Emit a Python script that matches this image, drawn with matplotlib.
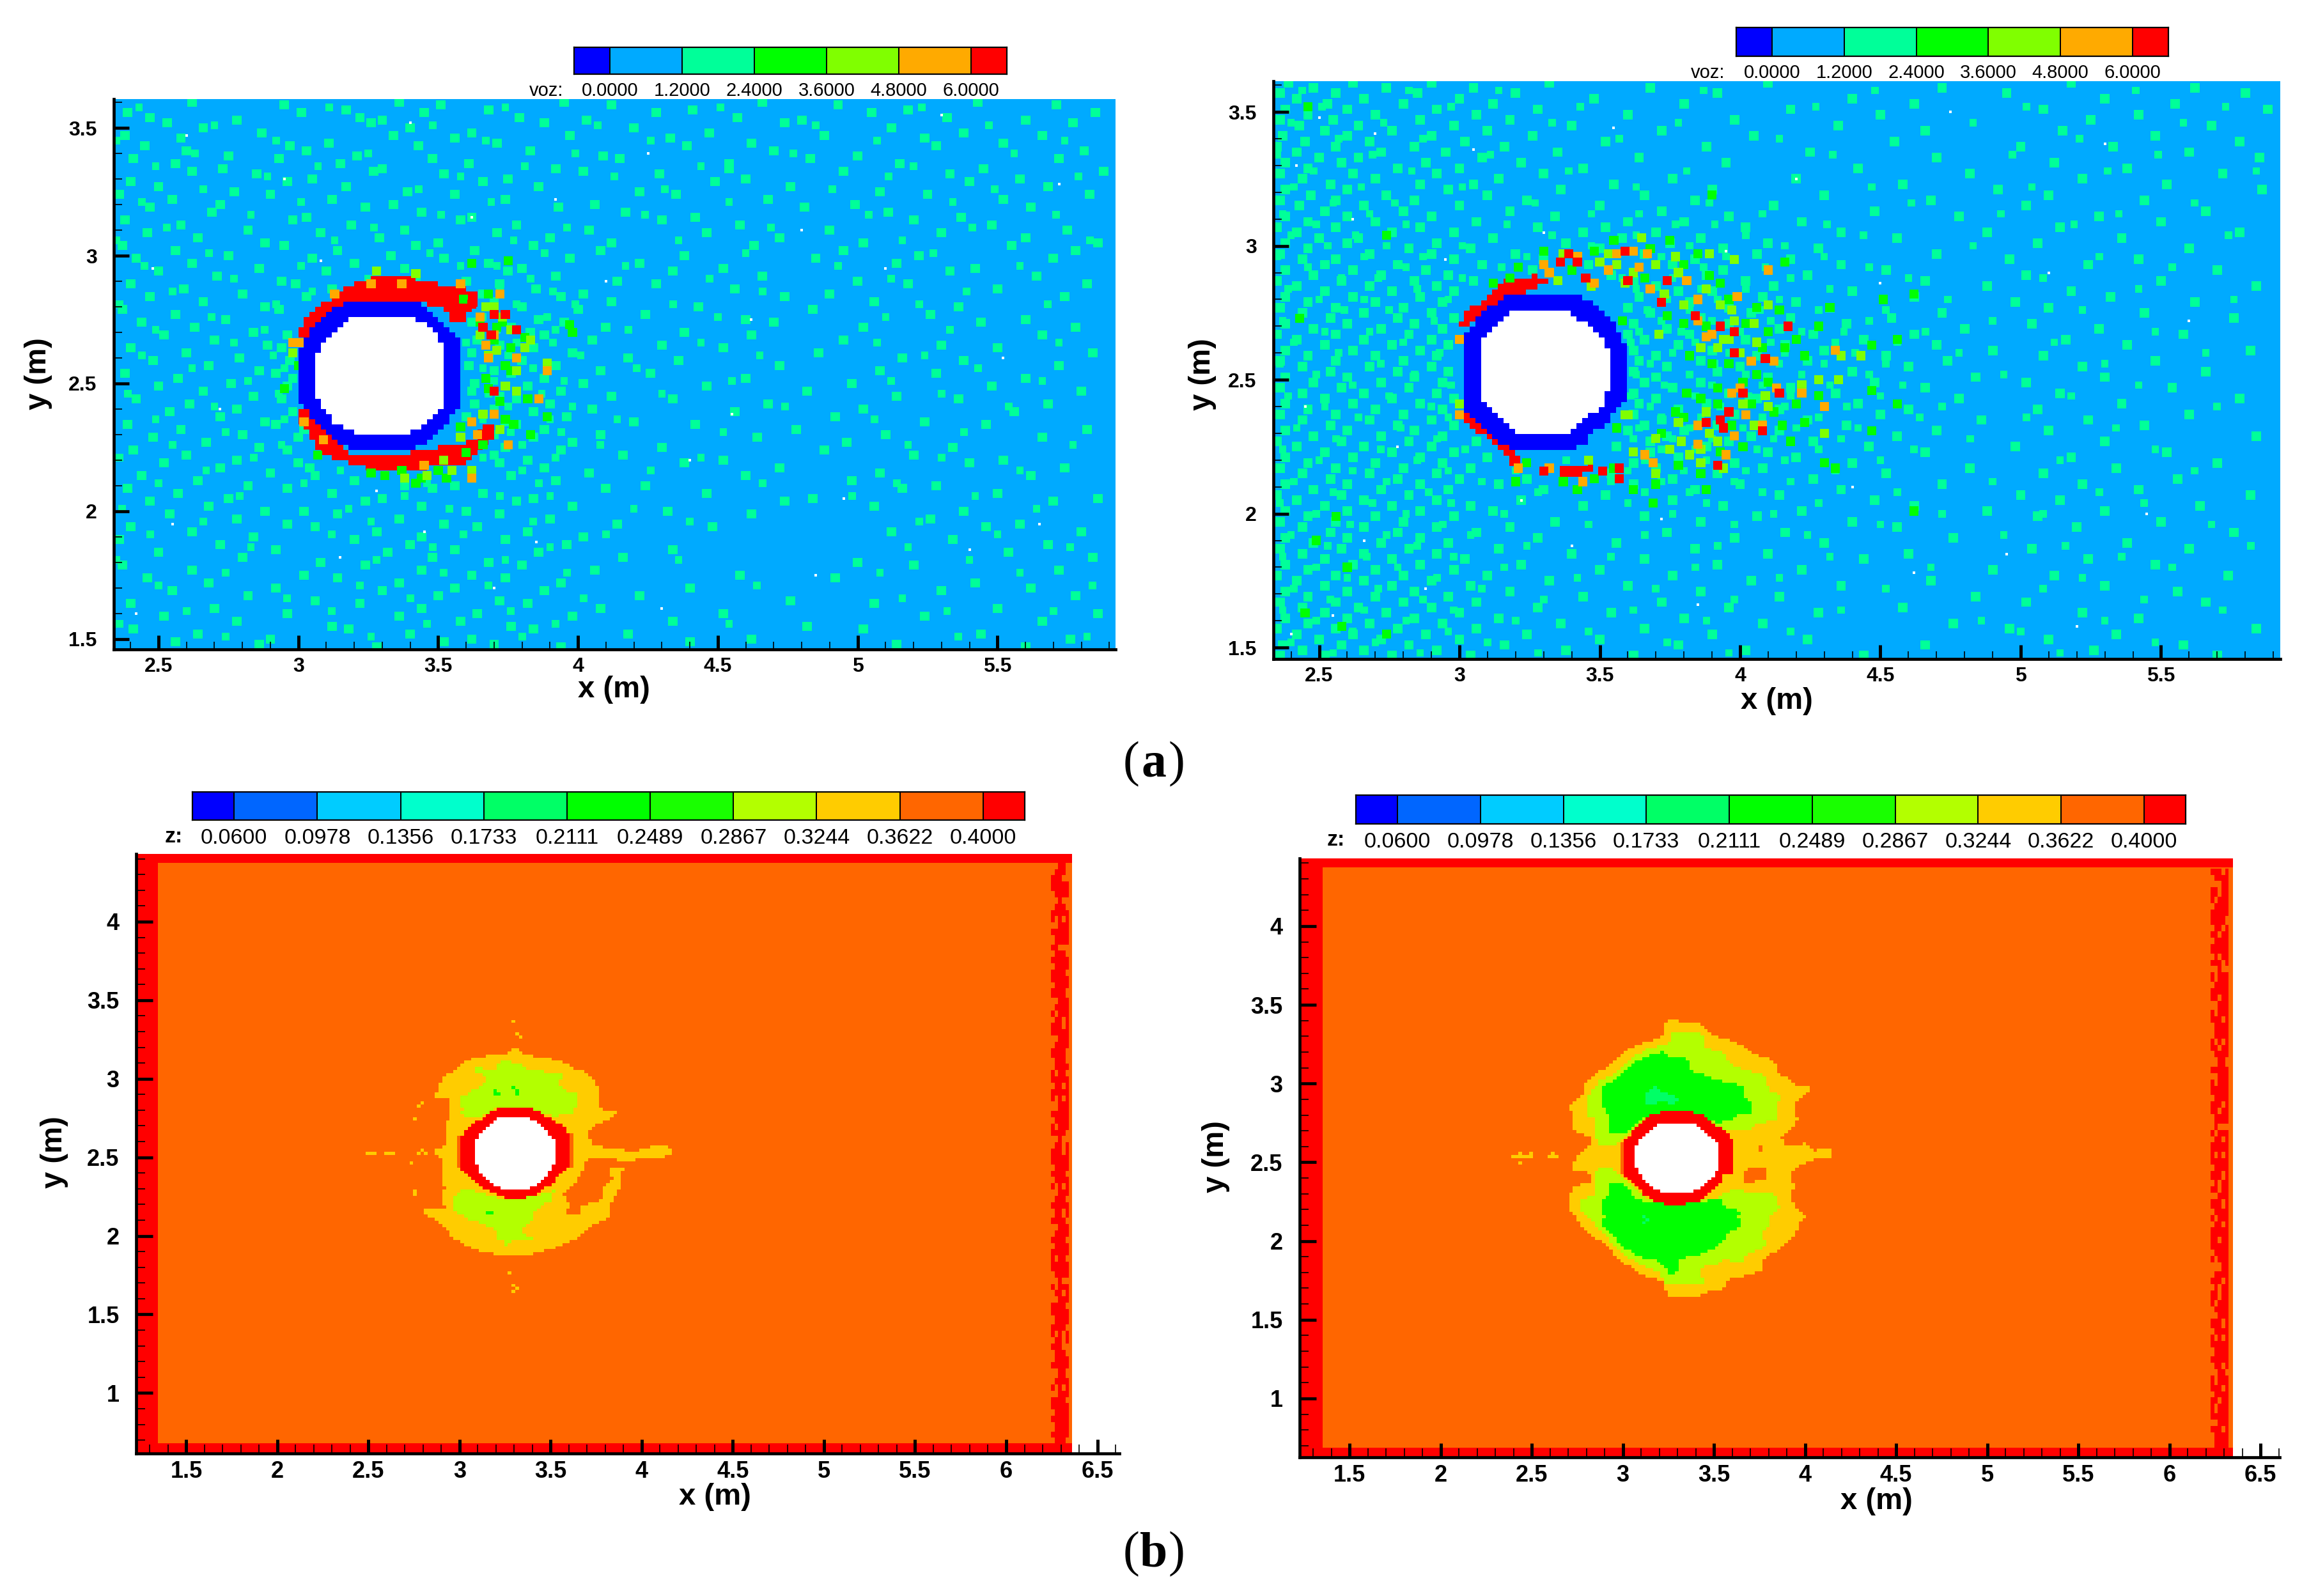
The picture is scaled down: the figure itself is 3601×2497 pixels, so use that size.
import numpy as np
import matplotlib
matplotlib.use("Agg")
import matplotlib.pyplot as plt
from matplotlib.colors import ListedColormap, BoundaryNorm
from matplotlib.path import Path
from matplotlib.ticker import MultipleLocator, FormatStrFormatter

W, H = 3601, 2497

# colour levels
voz_levels = [0.0, 1.2, 2.4, 3.6, 4.8, 6.0]
voz_colors = ["#0000ff", "#00aaff", "#00ff99", "#00ff00", "#80ff00", "#ffaa00", "#ff0000"]
z_levels = [0.06, 0.0978, 0.1356, 0.1733, 0.2111, 0.2489, 0.2867, 0.3244, 0.3622, 0.4]
z_colors = ["#0000ff", "#0066ff", "#00ccff", "#00ffcc", "#00ff66", "#00ff00", "#19ff00",
            "#b3ff00", "#ffcc00", "#ff6600", "#ff0000"]
voz_labels = ["0.0000", "1.2000", "2.4000", "3.6000", "4.8000", "6.0000"]
z_labels = ["0.0600", "0.0978", "0.1356", "0.1733", "0.2111", "0.2489", "0.2867", "0.3244", "0.3622", "0.4000"]

# values of the cells
VOZ_BLUE, VOZ_BG, VOZ_SG, VOZ_GREEN, VOZ_LIME, VOZ_ORANGE, VOZ_RED = -0.3, 0.6, 1.8, 3.0, 4.2, 5.4, 6.3
Z_SG, Z_GREEN, Z_LIME, Z_YELLOW, Z_ORANGE, Z_RED = 0.19, 0.23, 0.30, 0.34, 0.38, 0.41
HOLE = 99.0

# ---------- (a) left: void fraction outlines
al_blue = [(3.19,2.83),(3.41,2.83),(3.46,2.80),(3.53,2.72),(3.57,2.68),(3.59,2.64),(3.59,2.43),(3.57,2.40),(3.53,2.34),(3.46,2.27),
           (3.41,2.24),(3.19,2.24),(3.15,2.27),(3.06,2.35),(3.03,2.40),(3.01,2.43),(3.01,2.64),(3.03,2.68),(3.07,2.74),(3.14,2.80)]
al_hole = [(3.21,2.76),(3.39,2.76),(3.435,2.745),(3.48,2.71),(3.515,2.655),(3.53,2.62),(3.53,2.44),(3.51,2.40),(3.47,2.35),(3.435,2.33),
           (3.39,2.30),(3.21,2.30),(3.17,2.33),(3.13,2.35),(3.09,2.40),(3.07,2.44),(3.07,2.62),(3.09,2.655),(3.13,2.71),(3.17,2.745)]
al_red_top = [(3.00,2.67),(3.00,2.71),(3.05,2.78),(3.11,2.83),(3.18,2.88),(3.29,2.92),(3.37,2.92),(3.51,2.89),(3.58,2.88),(3.65,2.84),
              (3.65,2.80),(3.60,2.78),(3.60,2.74),(3.55,2.75),(3.51,2.80),(3.39,2.83),(3.19,2.83),(3.10,2.76),(3.04,2.68)]
al_red_low = [(3.00,2.41),(3.00,2.36),(3.04,2.30),(3.06,2.25),(3.10,2.22),(3.19,2.19),(3.28,2.16),(3.40,2.16),(3.52,2.18),(3.60,2.19),
              (3.63,2.22),(3.70,2.30),(3.71,2.33),(3.66,2.34),(3.63,2.28),(3.55,2.26),(3.50,2.25),(3.40,2.23),(3.19,2.23),(3.10,2.30),(3.05,2.38)]
al_red_dots = [(3.69,2.69),(3.74,2.77),(3.70,2.77),(3.70,2.47),(3.66,2.72),(3.62,2.81),(3.78,2.71)]
al_orange_dots = [(3.72,2.85),(3.65,2.76),(3.70,2.69),(3.68,2.60),(3.89,2.55),(3.86,2.44),(3.62,2.35),(3.70,2.38),(3.75,2.26),(3.62,2.13),
                  (3.45,2.18),(3.09,2.28),(3.02,2.35),(3.01,2.66),(2.98,2.66),(3.13,2.85),(3.26,2.89),(3.37,2.89),(3.58,2.89),(3.67,2.65),(3.64,2.30),(3.78,2.60)]
al_lime_dots = [(3.67,2.80),(3.73,2.76),(3.65,2.69),(3.83,2.67),(3.81,2.64),(3.74,2.49),(3.68,2.61),(3.89,2.58),(3.58,2.29),(3.52,2.20),(3.62,2.16),
                (3.46,2.14),(3.38,2.13),(3.70,2.80),(3.76,2.71),(3.71,2.63),(3.78,2.55),(3.78,2.47),(3.66,2.38),(3.72,2.32),(3.28,2.94),(3.42,2.93),(2.98,2.62),(3.55,2.16)]
al_green_dots = [(3.62,2.97),(3.75,2.98),(3.59,2.83),(3.65,2.74),(3.73,2.74),(3.81,2.68),(3.97,2.73),(3.70,2.67),(3.74,2.57),(3.76,2.55),(3.67,2.52),
                 (3.58,2.33),(3.74,2.36),(3.77,2.34),(3.89,2.37),(3.83,2.30),(3.60,2.23),(3.26,2.15),(3.31,2.14),(3.37,2.16),(3.44,2.13),(3.50,2.16),(3.53,2.13),
                 (3.68,2.85),(3.71,2.72),(3.76,2.64),(3.68,2.48),(3.72,2.43),(3.82,2.44),(3.66,2.26),(3.42,2.11),(3.98,2.70),(3.00,2.57),(2.95,2.48),(3.07,2.22)]

# background dots of (a) left, one row per y
al_rows = [
(3.60,[2.62,3.36,3.95,4.66,5.43]),(3.59,[2.95,3.51,4.12,4.93,5.71]),(3.57,[3.17,3.68,4.41,5.18]),
(3.56,[2.39,3.01,3.45,4.28,5.05,5.85]),(3.54,[2.47,3.22,3.79,4.57,5.32]),(3.53,[2.78,3.30,4.03,4.80,5.60]),
(3.52,[2.53,3.26,3.88,4.74,5.77]),(3.50,[2.66,3.40,4.20,5.12]),(3.48,[2.87,3.62,4.47,5.38]),
(3.47,[2.38,3.34,3.97,4.88,5.66]),(3.46,[2.58,3.56,4.33,5.24]),(3.44,[3.11,3.71,4.62,5.52]),
(3.43,[2.45,2.97,3.43,4.39,5.28]),(3.41,[2.60,3.03,3.83,4.70,5.81]),(3.39,[2.75,3.21,4.09,5.00]),
(3.38,[2.41,2.93,3.48,4.15,4.83,5.72]),(3.36,[2.56,3.15,3.61,4.54,5.15]),(3.34,[2.73,3.30,3.92,4.54,5.45]),
(3.33,[2.62,3.27,4.02,4.95,5.88]),(3.32,[2.85,3.52,4.29,5.33]),(3.30,[3.05,3.75,4.60,5.58]),
(3.29,[2.40,2.96,3.66,4.49,5.40]),(3.27,[2.50,3.17,3.86,4.76,5.68]),(3.25,[2.77,3.39,4.22,5.08]),
(3.24,[2.36,2.90,3.56,4.35,5.25,5.83]),(3.22,[2.55,3.12,3.74,4.68,5.52]),(3.20,[2.72,3.34,4.06,4.99]),
(3.19,[2.47,3.24,3.93,4.81,5.62]),(3.17,[2.69,3.44,4.17,5.11]),(3.15,[3.03,3.62,4.42,5.37]),
(3.14,[2.38,2.98,3.58,4.30,5.20]),(3.12,[2.58,3.19,3.78,4.58,5.48]),(3.10,[2.82,3.38,4.04,4.90,5.75]),
(3.09,[2.46,3.08,3.71,4.46,5.30]),(3.07,[2.64,3.29,3.90,4.72,5.60]),(3.05,[2.88,3.50,4.12,5.02,5.86]),
(3.04,[2.37,2.95,3.42,3.84,4.63,5.55]),(3.02,[2.56,3.14,3.63,4.08,4.95,5.78]),(3.00,[2.75,3.33,4.38,5.22]),
(2.99,[2.42,3.05,3.52,3.97,4.85,5.70]),(2.97,[2.62,3.20,3.68,4.22,5.14]),(2.95,[2.86,3.38,3.80,4.52,5.42]),
(2.94,[2.50,3.10,3.75,4.34,5.33]),(2.92,[2.71,3.42,3.92,4.66,5.64]),(2.90,[2.94,3.60,4.14,5.00]),
(2.89,[2.40,2.99,3.72,4.28,5.18,5.82]),(2.87,[2.59,3.12,3.85,4.56,5.50]),(2.85,[2.80,3.66,4.02,4.90]),
(2.84,[2.47,3.03,3.94,4.74,5.74]),(2.82,[2.66,3.70,4.12,5.06]),(2.80,[2.88,3.80,4.43,5.36]),
(2.79,[2.37,2.93,4.00,4.84]),(2.77,[2.56,3.74,4.24,5.26]),(2.75,[2.74,3.86,4.60,5.60]),
(2.74,[2.44,3.62,3.95,4.70,5.44]),(2.72,[2.63,3.76,4.10,5.02,5.78]),(2.70,[2.84,3.83,4.38]),
(2.69,[2.52,2.96,3.88,4.62,5.66]),(2.67,[2.70,3.64,4.05,4.95]),(2.65,[2.89,3.72,4.30,5.30]),
(2.64,[2.40,2.94,3.84,4.52,5.50]),(2.62,[2.60,3.62,3.98,4.86,5.84]),(2.60,[2.79,3.68,4.18,5.16]),
(2.59,[2.48,2.97,3.80,4.36,5.38]),(2.57,[2.68,3.61,3.92,4.72,5.72]),(2.55,[2.86,3.70,4.08,5.08]),
(2.54,[2.38,2.92,3.76,4.26,5.28]),(2.52,[2.57,2.98,3.88,4.60,5.60]),(2.50,[2.76,3.63,4.02,4.98]),
(2.49,[2.50,2.96,3.82,4.46,5.48]),(2.47,[2.66,3.62,3.94,4.82,5.80]),(2.45,[2.84,3.72,4.12,5.14]),
(2.44,[2.42,2.94,3.78,4.34,5.36]),(2.42,[2.61,3.63,3.90,4.68,5.68]),(2.40,[2.78,3.70,4.05,5.02]),
(2.39,[2.54,2.98,3.84,4.56,5.56]),(2.37,[2.72,3.60,3.96,4.92]),(2.35,[2.88,3.74,4.20,5.24]),
(2.34,[2.39,2.92,3.78,4.42,5.46]),(2.32,[2.58,3.02,3.88,4.78,5.82]),(2.30,[2.80,3.70,4.08,5.10]),
(2.29,[2.48,3.00,3.84,4.64,5.66]),(2.27,[2.67,3.66,3.98,4.96]),(2.25,[2.86,3.74,4.30,5.34]),
(2.24,[2.41,2.96,3.94,4.88]),(2.22,[2.60,3.70,4.16,5.20]),(2.20,[2.78,3.82,4.52,5.52]),
(2.19,[2.52,3.00,3.72,4.38,5.40]),(2.17,[2.72,3.04,3.88,4.72,5.74]),(2.15,[2.90,3.62,4.04,5.08]),
(2.14,[2.44,3.06,3.76,4.60,5.62]),(2.12,[2.64,3.20,3.92,4.98]),(2.10,[2.82,3.38,3.56,4.24,5.28]),
(2.09,[2.39,2.96,3.48,4.10,5.16]),(2.07,[2.57,3.12,3.66,4.46,5.50]),(2.05,[2.75,3.30,3.84,4.84,5.86]),
(2.04,[2.47,3.24,3.78,4.74,5.70]),(2.02,[2.68,3.44,3.98,5.06]),(2.00,[2.88,3.02,3.60,4.32,5.38]),
(1.99,[2.54,3.14,3.72,4.62]),(1.97,[2.78,3.36,3.90,5.26]),(1.95,[2.96,3.52,4.14,5.58]),
(1.94,[2.40,3.06,3.64,4.48,5.46]),(1.92,[2.62,3.28,3.82,5.12,5.80]),(1.90,[2.84,3.44,4.02]),
(1.89,[2.36,3.20,3.74,5.34]),(1.87,[2.72,3.40,3.96,5.68]),(1.85,[2.92,3.56,4.34]),
(1.84,[2.50,3.32,3.86,5.54]),(1.82,[2.80,3.48,4.16,5.84]),(1.80,[3.08,3.68,5.00]),
(1.79,[2.37,3.24,3.80,5.20]),(1.77,[2.62,3.44,4.06,5.72]),(1.75,[3.02,3.62,4.58]),
(1.74,[2.46,3.14,3.74,4.92]),(1.72,[2.68,3.36,3.94,5.42]),(1.70,[2.92,3.56,4.40,5.62]),
(1.69,[2.55,3.30,3.88,5.30]),(1.67,[2.82,3.50,4.22,5.78]),(1.65,[3.06,3.72,4.76]),
(1.64,[2.40,3.22,3.82,5.06]),(1.62,[2.70,3.44,4.08,5.50]),(1.60,[2.96,3.64,4.52,5.86]),
(1.59,[2.52,3.36,3.98,5.24]),(1.57,[2.78,3.58,4.34,5.66]),(1.55,[3.12,3.76,4.82]),
(1.54,[2.41,3.18,3.84,5.02]),(1.52,[2.64,3.40,4.18,5.44]),(1.50,[2.90,3.62,4.62,5.76]),
(1.49,[2.56,3.52,4.40]),(1.48,[2.86,3.70,5.14]),(1.47,[3.28,3.94,5.60]),
]
# smaller, less even dots of (a) left
al_extra = [
(3.58,[2.43,3.11,3.74,4.51,5.23]),(3.51,[2.70,3.48,4.07,4.85,5.47]),(3.45,[2.35,2.92,3.67,4.26,5.07,5.74]),
(3.40,[2.63,3.25,3.99,4.77,5.56]),(3.35,[2.49,3.07,3.81,4.44,5.20]),(3.31,[2.89,3.58,4.13,5.11,5.79]),
(3.26,[2.66,3.43,4.31,4.91,5.49]),(3.21,[2.44,3.01,3.69,4.54,5.34]),(3.16,[2.83,3.51,4.24,5.04,5.71]),
(3.11,[2.53,3.27,3.96,4.69,5.41]),(3.06,[2.35,3.13,3.77,4.36,5.16,5.83]),(3.01,[2.68,3.47,3.88,4.60,5.27]),
(2.96,[2.45,3.01,3.58,3.71,4.17,4.93,5.58]),(2.91,[2.77,3.25,3.83,4.47,5.12]),(2.86,[2.55,3.05,3.72,3.91,4.66,5.39]),
(2.81,[2.36,2.92,3.78,3.99,4.34,5.22,5.68]),(2.76,[2.69,3.66,3.89,4.50,5.10]),(2.71,[2.49,2.88,3.71,3.92,4.18,5.33]),
(2.66,[2.77,3.60,3.78,3.91,4.44,5.07,5.72]),(2.61,[2.44,2.91,3.75,4.01,4.65,5.24]),(2.56,[2.62,2.95,3.66,3.84,4.21,5.43]),
(2.51,[2.82,3.70,3.95,4.55,5.12,5.66]),(2.46,[2.39,2.93,3.68,3.87,4.30,5.30]),(2.41,[2.70,3.75,3.98,4.74,5.54]),
(2.36,[2.49,2.95,3.66,3.90,4.14,5.06]),(2.31,[2.74,3.76,3.94,4.52,5.38]),(2.26,[2.55,2.94,3.80,4.08,5.18,5.77]),
(2.21,[2.36,2.84,3.66,3.92,4.44,5.30]),(2.16,[2.67,3.15,3.80,4.26,5.58]),(2.11,[2.50,3.02,3.46,3.86,4.66,5.14]),
(2.06,[2.79,3.38,3.72,3.90,4.98,5.42]),(2.01,[2.37,3.18,3.54,4.20,5.64]),(1.96,[2.66,3.26,3.84,4.40,5.22]),
(1.91,[2.47,3.12,3.59,4.10,5.50]),(1.86,[2.83,3.48,3.90,5.18,5.76]),(1.81,[2.35,3.28,3.74,4.36,5.40]),
(1.76,[2.74,3.52,3.96,5.08,5.58]),(1.71,[2.50,3.22,3.68,4.64,5.84]),(1.66,[2.96,3.40,4.02,5.16]),
(1.61,[2.60,3.12,3.76,5.32,5.70]),(1.56,[2.36,3.46,3.92,4.54]),(1.51,[2.74,3.26,3.80,5.36,5.82]),
]
al_white_x = [2.60,2.95,3.40,3.92,4.25,4.80,5.30,5.72,2.48,3.08,3.62,4.10,4.62,5.10,5.52,2.72,3.28,3.85,4.40,4.95,5.40,2.55,3.15,3.70,4.30,4.85,5.65,2.42,3.45,4.55]
al_white_y = [3.47,3.30,3.52,3.22,3.40,3.10,3.55,3.28,2.95,2.98,3.15,2.90,2.75,2.95,2.60,2.40,2.08,1.88,2.20,2.05,1.85,1.95,1.82,1.70,1.62,1.75,1.95,1.60,1.92,2.38]

# ---------- (a) right
ar_blue = [(3.19,2.82),(3.41,2.82),(3.45,2.80),(3.51,2.76),(3.53,2.74),(3.57,2.68),(3.59,2.64),(3.59,2.43),(3.56,2.40),(3.53,2.33),(3.47,2.31),
           (3.45,2.26),(3.41,2.24),(3.19,2.24),(3.15,2.26),(3.08,2.32),(3.03,2.37),(3.01,2.44),(3.01,2.63),(3.03,2.68),(3.08,2.75),(3.15,2.80)]
ar_hole = [(3.215,2.76),(3.39,2.76),(3.43,2.72),(3.47,2.70),(3.51,2.66),(3.53,2.62),(3.53,2.47),(3.51,2.41),(3.47,2.37),(3.43,2.34),
           (3.39,2.30),(3.215,2.30),(3.17,2.34),(3.13,2.37),(3.09,2.41),(3.07,2.45),(3.07,2.62),(3.09,2.66),(3.13,2.70),(3.17,2.745)]
ar_red_top = [(3.00,2.69),(3.02,2.75),(3.11,2.81),(3.16,2.87),(3.27,2.89),(3.33,2.87),(3.25,2.83),(3.16,2.80),(3.08,2.75),(3.03,2.69)]
ar_red_low = [(3.00,2.37),(3.02,2.35),(3.06,2.31),(3.14,2.25),(3.19,2.18),(3.24,2.20),(3.22,2.21),(3.19,2.24),(3.14,2.29),(3.08,2.32),(3.03,2.37)]
ar_red_blob = [(3.35,2.175),(3.48,2.19),(3.48,2.16),(3.40,2.13),(3.35,2.14)]
ar_red_dots = [(3.39,2.97),(3.59,2.98),(3.42,2.94),(3.36,2.94),(3.45,2.88),(3.74,2.87),(3.60,2.87),(3.72,2.79),(3.84,2.74),(3.93,2.70),(3.98,2.68),(4.17,2.70),
               (3.98,2.60),(4.09,2.58),(4.01,2.45),(4.14,2.45),(3.88,2.34),(3.93,2.35),(3.94,2.32),(3.96,2.38),(4.08,2.31),(3.57,2.17),(3.92,2.18),(3.51,2.16),(3.57,2.13),(3.30,2.16)]
ar_orange_dots = [(3.42,2.96),(3.62,2.98),(3.56,2.97),(3.67,2.97),(3.30,2.93),(3.32,2.90),(3.64,2.92),(3.53,2.91),(4.10,2.91),(3.48,2.86),(3.81,2.87),(3.68,2.84),(3.85,2.80),
                  (3.99,2.81),(3.85,2.72),(3.88,2.66),(3.90,2.67),(4.34,2.61),(4.04,2.57),(4.12,2.57),(4.00,2.47),(3.97,2.45),(4.22,2.45),(4.13,2.47),(4.02,2.37),(3.85,2.33),(4.08,2.33),
                  (3.98,2.29),(3.85,2.26),(3.95,2.22),(3.66,2.22),(3.69,2.19),(3.44,2.12),(3.32,2.17),(3.21,2.17),(3.00,2.65),(3.00,2.37),(4.30,2.40)]
ar_lime_dots = [(3.65,3.03),(3.37,2.97),(3.53,2.97),(3.77,2.96),(3.89,2.97),(3.98,2.95),(3.47,2.85),(3.35,2.87),(3.73,2.82),(3.59,2.86),(3.93,2.78),(3.97,2.76),(4.10,2.78),(3.71,2.67),
                (3.96,2.65),(4.05,2.71),(3.94,2.65),(4.43,2.59),(4.36,2.59),(4.22,2.48),(4.28,2.50),(4.35,2.50),(4.09,2.44),(4.01,2.41),(3.60,2.37),(3.59,2.37),(3.75,2.24),(3.86,2.24),(3.62,2.23),
                (4.10,2.40),(3.94,2.17),(4.30,2.30),(3.00,2.41),(3.82,2.22),(3.79,2.27),(3.92,2.27),(3.89,2.30),(4.00,2.60),(3.92,2.62),(3.56,2.93),(3.70,2.93),
                (3.50,2.94),(3.62,2.90),(3.78,2.90),(3.88,2.84),(3.80,2.78),(3.98,2.72),(4.06,2.64),(3.86,2.62),(3.78,2.34),(3.88,2.38),(4.05,2.33),(3.70,2.28),(3.46,2.20),(3.70,2.15),(3.86,2.19)]
ar_green_dots = [(3.48,2.98),(3.75,3.02),(3.21,2.92),(3.40,2.91),(3.18,2.88),(3.12,2.86),(3.85,2.97),(2.74,3.04),(3.90,3.19),(4.16,2.94),(3.93,2.86),(3.58,2.72),(3.80,2.71),(4.02,2.71),
                 (4.10,2.68),(4.14,2.76),(4.32,2.77),(4.51,2.80),(4.62,2.82),(4.47,2.63),(4.20,2.65),(3.82,2.59),(3.90,2.56),(4.23,2.59),(4.56,2.65),(4.47,2.46),(4.01,2.49),(4.20,2.41),(4.56,2.41),
                 (3.86,2.43),(3.81,2.45),(3.77,2.38),(3.56,2.32),(4.15,2.33),(4.23,2.34),(4.04,2.41),(4.01,2.25),(3.86,2.15),(3.70,2.11),(3.69,2.04),(4.34,2.17),(4.47,2.31),(4.30,2.19),(3.48,2.13),
                 (3.37,2.12),(3.24,2.19),(3.20,2.12),(4.62,2.01),(2.46,3.52),(2.43,2.73),(2.56,1.99),(2.49,1.90),(2.60,1.80),(2.45,1.63),(2.58,1.58),(2.74,1.55),
                 (3.55,3.02),(3.68,2.99),(3.30,2.98),(3.80,2.93),(3.66,2.88),(3.89,2.89),(3.74,2.74),(3.96,2.80),(4.06,2.77),(3.88,2.70),(4.08,2.62),(4.16,2.62),(4.28,2.70),(3.96,2.56),(4.06,2.52),
                 (3.92,2.47),(4.10,2.49),(4.28,2.44),(3.92,2.41),(3.80,2.36),(3.97,2.33),(3.72,2.30),(4.12,2.38),(4.18,2.27),(3.93,2.23),(3.78,2.18),(3.62,2.09),(3.55,2.17),(3.42,2.09),(3.88,2.09)]

ar_rows = [
(3.61,[2.39,2.62,2.90,3.32,4.10,5.18]),(3.59,[2.48,2.74,3.05,3.68,4.72,5.62]),(3.57,[2.36,2.56,2.85,3.20,3.92,4.95,5.80]),
(3.55,[2.42,2.66,3.00,3.48,4.40,5.30]),(3.53,[2.53,2.80,3.12,3.80,4.62,5.55]),(3.51,[2.38,2.60,2.92,3.28,4.18,5.08,5.88]),
(3.49,[2.46,2.70,3.06,3.60,4.50,5.42]),(3.47,[2.36,2.55,2.86,3.18,3.98,5.25]),(3.45,[2.43,2.64,2.98,3.40,4.35,5.68]),
(3.43,[2.52,2.76,3.10,3.72,4.66,5.15]),(3.41,[2.37,2.60,2.90,3.26,4.05,5.48]),(3.39,[2.45,2.68,3.02,3.52,4.55,5.78]),
(3.37,[2.35,2.56,2.84,3.16,3.88,5.00,5.33]),(3.35,[2.42,2.72,2.95,3.35,4.25,5.60]),(3.33,[2.50,2.64,3.08,3.64,4.70,5.85]),
(3.31,[2.38,2.58,2.88,3.22,3.95,5.12]),(3.29,[2.46,2.78,3.00,3.44,4.42,5.38]),(3.27,[2.36,2.62,2.92,3.30,4.82,5.72]),
(3.25,[2.44,2.70,3.14,3.76,4.20,5.22]),(3.23,[2.54,2.86,3.05,3.55,4.58,5.52]),(3.21,[2.38,2.60,2.96,3.36,3.90,4.92,5.86]),
(3.19,[2.47,2.74,3.10,3.66,4.30,5.10]),(3.17,[2.36,2.56,2.84,3.24,3.84,4.68,5.44]),(3.15,[2.43,2.66,3.00,3.50,4.12,5.02]),
(3.13,[2.52,2.80,3.18,3.72,4.48,5.66]),(3.11,[2.38,2.60,2.90,3.34,3.96,4.78,5.28]),(3.09,[2.46,2.70,3.06,3.60,3.80,4.22,5.50]),
(3.07,[2.35,2.56,2.86,3.28,3.52,4.02,5.14]),(3.05,[2.42,2.76,2.98,3.44,3.70,4.36,4.88,5.78]),(3.03,[2.50,2.64,3.12,3.58,3.86,4.56,5.36]),
(3.01,[2.38,2.60,2.92,3.38,3.75,4.10,5.06]),(2.99,[2.46,2.82,3.04,3.50,3.94,4.28,5.60]),(2.97,[2.36,2.68,2.90,3.20,3.66,4.06,4.70]),
(2.95,[2.44,2.56,2.98,3.30,3.84,4.18,4.96,5.42]),(2.93,[2.52,2.78,3.08,3.46,3.76,4.36,5.24]),(2.91,[2.38,2.62,2.88,3.26,3.94,4.52,5.70]),
(2.89,[2.48,2.72,2.96,3.54,3.88,4.24,5.02]),(2.87,[2.35,2.58,2.84,3.05,3.62,4.02,4.66,5.50]),(2.85,[2.42,2.68,2.92,3.70,4.12,4.88,5.84]),
(2.83,[2.52,2.76,2.98,3.78,3.90,4.40,5.18]),(2.81,[2.38,2.62,2.86,3.64,4.08,4.62,5.32]),(2.79,[2.46,2.70,2.94,3.82,4.20,4.98,5.62]),
(2.77,[2.36,2.56,2.80,3.60,3.96,4.32,5.10]),(2.75,[2.44,2.66,2.90,3.68,4.04,4.72,5.44]),(2.73,[2.54,2.78,2.98,3.86,4.18,4.54,5.76]),
(2.71,[2.38,2.60,2.84,3.62,3.96,4.38,5.04]),(2.69,[2.48,2.72,2.94,3.74,4.14,4.80,5.28]),(2.67,[2.35,2.56,2.82,3.60,3.82,4.26,4.62,5.58]),
(2.65,[2.42,2.66,2.90,3.66,4.02,4.44,5.16]),(2.63,[2.52,2.76,2.96,3.78,4.16,4.70,5.38]),(2.61,[2.38,2.62,2.86,3.62,3.90,4.30,4.90,5.82]),
(2.59,[2.46,2.70,2.92,3.70,4.06,4.52,5.08]),(2.57,[2.36,2.56,2.80,3.64,3.86,4.24,4.74,5.48]),(2.55,[2.44,2.68,2.90,3.74,4.00,4.60,5.22]),
(2.53,[2.54,2.78,2.96,3.62,3.92,4.40,5.66]),(2.51,[2.38,2.60,2.84,3.70,4.10,4.84,5.30]),(2.49,[2.48,2.72,2.94,3.66,3.86,4.48,5.02]),
(2.47,[2.36,2.58,2.82,3.76,4.18,4.66,5.54]),(2.45,[2.44,2.66,2.92,3.62,3.96,4.34,5.14]),(2.43,[2.52,2.76,2.98,3.70,4.06,4.78,5.78]),
(2.41,[2.38,2.62,2.86,3.64,3.88,4.42,5.36]),(2.39,[2.46,2.70,2.94,3.78,4.14,4.60,5.06]),(2.37,[2.36,2.56,2.80,3.62,3.98,4.50,5.60]),
(2.35,[2.44,2.68,2.90,3.72,4.24,4.86,5.24]),(2.33,[2.54,2.78,2.98,3.66,3.92,4.38,5.44]),(2.31,[2.38,2.60,2.84,3.60,3.80,4.14,4.70,5.10]),
(2.29,[2.48,2.72,2.94,3.74,4.04,4.56,5.84]),(2.27,[2.35,2.58,2.82,3.06,3.68,3.96,4.26,5.30]),(2.25,[2.42,2.66,2.90,3.56,3.88,4.46,4.98]),
(2.23,[2.52,2.76,2.98,3.68,4.10,4.66,5.52]),(2.21,[2.38,2.62,2.86,3.10,3.78,4.20,5.18]),(2.19,[2.46,2.70,2.94,3.62,3.98,4.40,5.70]),
(2.17,[2.36,2.56,2.80,3.04,3.70,4.08,4.82,5.34]),(2.15,[2.44,2.68,2.92,3.54,3.92,4.52,5.08]),(2.13,[2.54,2.78,3.00,3.24,3.76,4.26,5.56]),
(2.11,[2.38,2.60,2.86,3.14,3.62,4.00,4.72,5.22]),(2.09,[2.48,2.72,2.96,3.30,3.84,4.36,5.42]),(2.07,[2.35,2.58,2.82,3.52,4.14,5.00,5.82]),
(2.05,[2.42,2.66,2.92,3.22,3.76,4.48,5.14]),(2.03,[2.52,2.76,3.04,3.44,3.94,4.62,5.64]),(2.01,[2.38,2.60,2.86,3.12,4.22,4.88,5.30]),
(1.99,[2.46,2.70,2.98,3.66,4.06,5.06]),(1.97,[2.36,2.56,2.80,3.34,3.86,4.40,5.50]),(1.95,[2.44,2.66,2.92,3.18,4.56,5.20]),
(1.93,[2.54,2.78,3.06,3.74,4.16,5.76]),(1.91,[2.38,2.60,2.86,3.28,3.98,4.76]),(1.89,[2.48,2.72,2.96,3.56,4.30,5.38]),
(1.87,[2.36,2.58,2.82,3.14,3.84,5.04,5.60]),(1.85,[2.44,2.66,2.92,3.40,4.10,4.60]),(1.83,[2.52,2.76,3.02,3.66,4.44,5.24]),
(1.81,[2.38,2.62,2.86,3.22,3.92,5.48]),(1.79,[2.46,2.70,2.98,3.50,4.22,4.90]),(1.77,[2.35,2.56,2.80,3.10,3.76,5.12,5.74]),
(1.75,[2.42,2.66,2.90,3.32,4.04,4.68]),(1.73,[2.52,2.76,3.04,3.60,4.36,5.30]),(1.71,[2.38,2.60,2.84,3.18,3.86,5.56]),
(1.69,[2.46,2.70,2.96,3.44,4.14,4.84]),(1.67,[2.36,2.56,2.80,3.06,3.72,5.02,5.66]),(1.65,[2.44,2.64,2.90,3.28,3.96,4.58]),
(1.63,[2.52,2.74,3.00,3.54,4.28,5.22]),(1.61,[2.38,2.60,2.84,3.14,3.80,5.42]),(1.59,[2.46,2.68,2.94,3.36,4.08,4.76]),
(1.57,[2.35,2.56,2.78,3.06,3.66,4.96,5.84]),(1.55,[2.42,2.62,2.88,3.24,3.90,5.34]),(1.53,[2.50,2.72,3.00,3.50,4.24,5.10]),
(1.51,[2.37,2.58,2.82,3.16,3.78,4.66,5.58]),(1.49,[2.44,2.66,2.92,3.38,4.02,5.26]),(1.47,[2.36,2.52,2.76,3.04,3.62,4.44,5.70]),
]
# smaller, less even dots of (a) right, thicker behind the cylinder
ar_extra = [
(3.58,[2.44,2.82,3.14,3.87,4.48,5.41]),(3.52,[2.51,2.97,3.43,4.27,5.02,5.73]),(3.46,[2.40,2.73,3.33,3.78,4.83,5.58]),
(3.40,[2.57,2.87,3.57,4.14,5.21]),(3.34,[2.35,2.69,3.11,4.33,4.97,5.49]),(3.28,[2.48,2.83,3.39,3.81,5.31,5.84]),
(3.22,[2.41,2.65,3.01,3.63,4.47,5.04]),(3.16,[2.55,2.77,3.27,3.89,4.61,5.62]),(3.12,[2.37,2.68,3.47,3.64,4.08,4.93,5.35]),
(3.08,[2.49,2.81,3.17,3.77,3.91,4.31,5.19]),(3.04,[2.40,2.63,3.33,3.63,4.02,4.44,5.74]),(3.00,[2.53,2.74,3.01,3.47,3.82,4.16,4.83]),
(2.96,[2.35,2.66,2.87,3.24,3.72,3.95,4.30,5.28]),(2.92,[2.46,2.81,3.15,3.87,4.09,4.46,5.54]),(2.88,[2.58,2.71,3.01,3.58,3.76,4.18,4.60,5.08]),
(2.84,[2.39,2.85,3.63,3.86,4.02,4.32,5.42]),(2.80,[2.50,2.66,2.96,3.74,3.92,4.14,4.74,5.76]),(2.76,[2.59,2.75,3.67,3.82,4.07,4.28,4.52,5.22]),
(2.72,[2.37,2.91,3.72,3.90,4.11,4.46,4.90]),(2.68,[2.52,2.68,3.64,3.79,4.00,4.22,4.37,4.66,5.48]),(2.64,[2.41,2.80,3.61,3.84,4.11,4.34,4.56,5.12]),
(2.60,[2.57,2.93,3.76,3.96,4.16,4.41,4.78,5.66]),(2.56,[2.36,2.72,3.68,3.91,4.14,4.30,4.52,5.30]),(2.52,[2.49,2.84,3.63,3.82,4.02,4.22,4.46,4.94]),
(2.48,[2.62,2.97,3.73,3.90,4.08,4.32,4.58,5.42]),(2.44,[2.39,2.75,3.61,3.84,4.03,4.18,4.50,5.18]),(2.40,[2.52,2.90,3.68,3.93,4.16,4.38,4.72,5.70]),
(2.36,[2.64,2.96,3.72,3.86,4.08,4.28,4.64,5.02]),(2.32,[2.42,2.79,3.64,3.82,4.01,4.20,4.42,5.34]),(2.28,[2.56,2.92,3.62,3.76,3.90,4.12,4.36,4.82]),
(2.24,[2.37,2.72,3.02,3.72,3.84,4.06,4.28,4.62,5.48]),(2.20,[2.50,2.85,3.38,3.66,3.88,4.16,4.50,5.14]),(2.16,[2.62,2.96,3.20,3.60,3.80,4.02,4.34,5.62]),
(2.12,[2.41,2.74,3.08,3.54,3.72,3.98,4.18,4.90]),(2.08,[2.55,2.89,3.28,3.66,3.82,4.08,4.56,5.28]),(2.04,[2.36,2.69,2.97,3.60,3.88,4.28,5.44]),
(2.00,[2.49,2.81,3.16,3.76,4.12,4.72,5.08]),(1.96,[2.61,2.94,3.46,3.98,4.50,5.68]),(1.92,[2.40,2.74,3.04,3.66,4.24,4.94]),
(1.88,[2.53,2.85,3.24,3.92,5.16,5.82]),(1.84,[2.37,2.67,2.98,3.54,4.32,5.36]),(1.80,[2.49,2.78,3.16,3.84,4.68,5.54]),
(1.76,[2.60,2.92,3.42,4.14,5.22]),(1.72,[2.41,2.71,3.08,3.70,4.52,5.08]),(1.68,[2.54,2.87,3.30,3.98,5.44]),
(1.64,[2.37,2.66,2.98,3.62,4.36,5.72]),(1.60,[2.49,2.81,3.20,3.88,4.86,5.30]),(1.56,[2.62,2.96,3.46,4.18,5.00]),
(1.52,[2.40,2.70,3.10,3.74,5.48]),(1.48,[2.55,2.86,3.28,3.96,5.14]),
]
ar_white_x = [2.50,2.70,2.42,3.05,3.55,4.20,4.75,5.30,2.62,2.95,3.30,3.95,4.50,5.10,5.60,2.45,2.78,3.22,3.72,4.40,4.95,5.45,2.55,2.88,3.40,3.85,4.62,5.20,2.40,2.66]
ar_white_y = [3.48,3.42,3.30,3.36,3.44,3.25,3.50,3.38,3.10,2.95,3.05,2.98,2.86,2.90,2.72,2.40,2.25,2.05,1.98,2.10,1.85,2.00,1.62,1.72,1.88,1.66,1.78,1.58,1.55,1.90]

# ---------- (b) left
bl_yellow = [(3.28,3.19),(3.32,3.19),(3.35,3.15),(3.47,3.14),(3.56,3.11),(3.64,3.06),(3.70,3.04),(3.74,2.98),(3.76,2.94),(3.76,2.87),(3.78,2.79),(3.86,2.79),(3.82,2.73),(3.76,2.72),
             (3.70,2.67),(3.72,2.59),(3.78,2.57),(3.84,2.55),(3.90,2.55),(3.91,2.53),(3.99,2.53),(3.99,2.55),(4.07,2.57),(4.14,2.57),(4.17,2.53),(4.17,2.51),(3.99,2.49),(3.87,2.47),(3.86,2.49),
             (3.70,2.49),(3.68,2.43),(3.66,2.39),(3.62,2.31),(3.56,2.27),(3.61,2.19),(3.58,2.14),(3.66,2.14),(3.68,2.20),(3.74,2.21),(3.78,2.24),(3.80,2.34),(3.85,2.35),(3.82,2.41),(3.84,2.44),
             (3.90,2.43),(3.88,2.35),(3.88,2.30),(3.83,2.21),(3.82,2.12),(3.74,2.07),(3.66,1.99),(3.55,1.94),(3.44,1.89),(3.31,1.87),(3.23,1.87),(3.16,1.89),(3.08,1.91),(3.02,1.95),(2.96,1.99),
             (2.94,2.04),(2.88,2.10),(2.82,2.13),(2.78,2.22),(2.81,2.17),(2.92,2.17),(2.90,2.27),(2.92,2.31),(2.90,2.35),(2.90,2.49),(2.85,2.54),(2.90,2.56),(2.92,2.59),(2.92,2.72),(2.94,2.73),
             (2.94,2.87),(2.85,2.89),(2.89,2.94),(2.90,3.01),(2.96,3.04),(3.02,3.11),(3.08,3.13),(3.16,3.15),(3.26,3.15)]
bl_lime_top = [(3.22,3.11),(3.28,3.11),(3.35,3.08),(3.37,3.05),(3.47,3.05),(3.48,3.03),(3.56,3.03),(3.55,2.95),(3.59,2.92),(3.64,2.92),(3.64,2.85),(3.66,2.84),(3.61,2.77),(3.56,2.78),(3.53,2.75),
               (3.47,2.78),(3.33,2.82),(3.27,2.82),(3.19,2.81),(3.12,2.76),(3.04,2.75),(3.00,2.78),(3.02,2.79),(3.00,2.88),(3.06,2.92),(3.12,2.95),(3.16,3.02),(3.09,3.03),(3.09,3.07),(3.20,3.05)]
bl_lime_low = [(3.04,2.30),(3.13,2.27),(3.26,2.23),(3.48,2.27),(3.52,2.30),(3.51,2.23),(3.41,2.16),(3.41,2.11),(3.35,2.05),(3.35,2.01),(3.41,1.99),(3.37,1.97),(3.29,1.97),(3.25,1.92),(3.24,1.97),
               (3.20,1.99),(3.20,2.04),(3.13,2.07),(3.04,2.11),(2.96,2.17),(2.98,2.27)]
bl_green_cells = [(3.19,2.91),(3.21,2.91),(3.19,2.93),(3.30,2.94),(3.31,2.92),(3.31,2.90),(3.15,2.14),(3.17,2.14)]
bl_yellow_cells = [(3.29,3.36),(3.31,3.28),(3.33,3.26),(2.80,2.84),(2.77,2.82),(2.75,2.74),(2.81,2.53),(2.79,2.54),(2.77,2.52),(2.73,2.46),(2.62,2.53),(2.60,2.52),(2.64,2.52),(2.51,2.53),(2.49,2.52),
                   (2.53,2.52),(2.76,2.29),(2.75,2.27),(3.29,1.68),(3.29,1.65),(3.31,1.67),(3.27,1.77)]
bl_ring = [(3.27,2.82),(3.34,2.82),(3.43,2.80),(3.52,2.73),(3.56,2.71),(3.60,2.65),(3.60,2.43),(3.56,2.41),(3.52,2.34),(3.43,2.27),(3.34,2.23),(3.27,2.23),(3.19,2.27),(3.11,2.32),(3.05,2.37),
           (3.00,2.44),(3.00,2.62),(3.05,2.69),(3.11,2.74),(3.19,2.80)]
bl_fringe = [(2.985,2.63),(3.62,2.65),(3.62,2.43),(2.985,2.43)]
bl_hole = [(3.22,2.75),(3.385,2.75),(3.43,2.715),(3.48,2.665),(3.505,2.61),(3.525,2.605),(3.525,2.45),(3.505,2.445),(3.48,2.39),(3.43,2.335),(3.385,2.305),(3.22,2.305),(3.18,2.33),(3.12,2.39),
           (3.10,2.445),(3.08,2.45),(3.08,2.605),(3.10,2.61),(3.12,2.665),(3.18,2.715)]
bl_strip = """..###. .####. ####.. ###### .#.### ..##.. .####. ###### #.##.# ..#### ###.## .##### ##.... .####. ##.### .##.## #####. ###### .#.### ##.##. ...### .##### #.#.## .###.# ####.# ###### ..#### .##.## ###.#. .####. .##### #.###. ###### .###.# ##.### #..#.# ..#### ###.## .##### #.#.## ##.##. ..##.. .###.# ####.# ###### .#.### ###.#. .##### #.##.# ..#### .####. ##.### .###.# #####. ...### .#.### ##.##. .##### ###### #.###. ###.## .##.## ..#... #.#### .###.# ..#### ###.#. ###### .##.## ##### #.##.# .###.# ####.. .####. .#.### ###.## ...##. .##### #.##.# ..#### ###.#. ###### .##.## ##.### .##### ###### .####.""".split()

# ---------- (b) right
br_yellow = [(3.23,3.39),(3.26,3.41),(3.29,3.41),(3.30,3.39),(3.40,3.39),(3.46,3.34),(3.53,3.29),(3.63,3.26),(3.72,3.18),(3.80,3.17),(3.84,3.13),(3.84,3.07),(3.92,3.03),(3.96,2.98),(4.00,2.99),(4.03,2.97),
             (4.00,2.92),(3.94,2.86),(3.94,2.80),(3.96,2.78),(3.94,2.73),(3.90,2.68),(3.87,2.65),(3.90,2.60),(4.00,2.62),(4.06,2.57),(4.13,2.60),(4.16,2.52),(4.06,2.52),(3.96,2.47),(3.92,2.43),(3.94,2.35),
             (3.92,2.26),(4.00,2.16),(3.96,2.09),(3.95,2.03),(3.88,1.97),(3.86,1.94),(3.80,1.92),(3.76,1.87),(3.76,1.81),(3.66,1.77),(3.60,1.77),(3.55,1.70),(3.48,1.68),(3.40,1.65),(3.25,1.65),(3.23,1.71),
             (3.21,1.75),(3.13,1.77),(3.02,1.85),(2.96,1.91),(2.88,2.00),(2.84,2.02),(2.78,2.08),(2.74,2.16),(2.70,2.21),(2.70,2.29),(2.74,2.35),(2.82,2.37),(2.82,2.43),(2.71,2.46),(2.76,2.55),(2.82,2.60),
             (2.82,2.67),(2.74,2.69),(2.71,2.87),(2.78,2.93),(2.80,3.02),(2.88,3.08),(2.96,3.16),(3.08,3.25),(3.20,3.29),(3.23,3.32)]
br_lime_top = [(3.27,3.33),(3.43,3.33),(3.45,3.26),(3.44,3.23),(3.52,3.21),(3.57,3.17),(3.58,3.14),(3.67,3.08),(3.75,3.07),(3.79,3.02),(3.80,2.96),(3.87,2.92),(3.84,2.86),(3.84,2.77),(3.75,2.75),(3.68,2.70),
               (3.51,2.72),(3.41,2.80),(3.17,2.80),(3.04,2.69),(2.97,2.61),(2.86,2.60),(2.84,2.79),(2.80,2.79),(2.80,2.91),(2.88,3.03),(2.96,3.06),(3.04,3.16),(3.12,3.21),(3.22,3.25),(3.27,3.26)]
br_green_top = [(3.22,3.21),(3.27,3.16),(3.33,3.17),(3.37,3.13),(3.37,3.09),(3.40,3.06),(3.45,3.06),(3.49,3.03),(3.60,3.00),(3.66,2.99),(3.66,2.92),(3.71,2.87),(3.71,2.81),(3.62,2.81),(3.61,2.77),(3.52,2.75),
                (3.46,2.77),(3.41,2.81),(3.33,2.83),(3.25,2.83),(3.18,2.81),(3.13,2.79),(3.04,2.71),(3.01,2.69),(2.92,2.69),(2.92,2.80),(2.90,2.83),(2.88,2.93),(2.88,2.98),(2.96,3.03),(3.04,3.11),(3.12,3.17),(3.17,3.18)]
br_sg_top = [(3.14,2.95),(3.18,2.99),(3.20,2.95),(3.28,2.93),(3.32,2.89),(3.28,2.87),(3.21,2.88),(3.14,2.87),(3.12,2.90)]
br_sg_cells = [(3.12,2.15),(3.14,2.14),(3.12,2.12)]
br_lime_low = [(2.86,2.46),(2.92,2.47),(3.02,2.39),(3.15,2.26),(3.41,2.26),(3.51,2.27),(3.59,2.32),(3.66,2.32),(3.68,2.30),(3.82,2.31),(3.85,2.25),(3.86,2.21),(3.80,2.15),(3.80,2.08),(3.76,2.04),(3.80,1.98),
               (3.74,1.94),(3.68,1.91),(3.65,1.85),(3.56,1.89),(3.51,1.85),(3.43,1.83),(3.44,1.73),(3.23,1.73),(3.21,1.79),(3.13,1.83),(3.07,1.87),(3.02,1.90),(2.96,1.96),(2.90,2.04),(2.80,2.16),(2.76,2.21),
               (2.76,2.26),(2.84,2.29),(2.84,2.39)]
br_green_low = [(2.92,2.35),(2.96,2.37),(3.03,2.35),(3.06,2.28),(3.15,2.24),(3.41,2.24),(3.53,2.27),(3.56,2.22),(3.66,2.18),(3.63,2.15),(3.66,2.11),(3.63,2.08),(3.57,2.04),(3.57,2.01),(3.51,1.95),(3.40,1.91),
                (3.35,1.90),(3.30,1.87),(3.31,1.83),(3.29,1.79),(3.25,1.79),(3.25,1.82),(3.20,1.87),(3.10,1.90),(3.04,1.94),(2.98,1.98),(2.96,2.02),(2.90,2.08),(2.88,2.13),(2.90,2.16),(2.88,2.18),(2.88,2.26),(2.92,2.29)]
br_hole_a = [(3.74,2.61),(3.77,2.61),(3.77,2.57),(3.74,2.57)]
br_hole_b = [(3.70,2.47),(3.79,2.46),(3.79,2.39),(3.75,2.39),(3.72,2.36),(3.68,2.36),(3.66,2.42)]
br_yellow_cells = [(2.40,2.53),(2.42,2.53),(2.44,2.53),(2.46,2.53),(2.48,2.53),(2.50,2.53),(2.43,2.55),(2.43,2.50),(2.50,2.55),(2.60,2.53),(2.62,2.53),(2.64,2.53),(2.62,2.55)]
br_ring = [(3.25,2.83),(3.33,2.83),(3.41,2.81),(3.46,2.79),(3.50,2.74),(3.55,2.71),(3.60,2.65),(3.60,2.43),(3.55,2.42),(3.55,2.37),(3.46,2.29),(3.41,2.25),(3.33,2.23),(3.25,2.23),(3.18,2.25),(3.13,2.28),
           (3.04,2.38),(3.00,2.43),(3.00,2.63),(3.04,2.68),(3.09,2.74),(3.14,2.79),(3.18,2.81)]
br_fringe = [(2.98,2.63),(3.615,2.65),(3.615,2.43),(2.98,2.43)]
br_hole = [(3.215,2.75),(3.38,2.75),(3.42,2.73),(3.46,2.68),(3.50,2.65),(3.52,2.61),(3.52,2.46),(3.50,2.41),(3.46,2.37),(3.42,2.33),(3.38,2.31),(3.215,2.31),(3.175,2.33),(3.13,2.37),(3.10,2.41),(3.075,2.46),
           (3.075,2.61),(3.10,2.65),(3.13,2.68),(3.175,2.73)]
br_strip = """###.## .####. ...##. ##.### #.#### .###.# ###### ####.. .##.## ##.##. .####. #####. .#.### ###.## ..#... #.##.# .##### ###### ##.### ..#### #.###. ###.#. .##### .####. #.#.## ##.### .###.# ..##.. ####.# ..#### #.##.# ###### .##### ###.#. ##.##. .##### .#.... #.###. .##.## ####.# #.#.## ###### .##### ###.## .#.### ##.##. ..#### ###.#. .####. #.#### .##.## #####. ##.### ###### .###.# #.##.# ...### .##### ###.#. .#.### ##.### #.##.# .####. ..#### ###.## .##### #.#.## ###### .###.# ####.# .##.## ..##.. #.#### ###.#. .##### ##.##. #.###. ###### ..#### ###.## .##### .####.""".split()


def cmap_norm(colors, levels):
    lo = levels[0] - (levels[1] - levels[0]) / 2
    hi = levels[-1] + (levels[-1] - levels[-2]) / 2
    cmap = ListedColormap(colors)
    cmap.set_over("white")
    return cmap, BoundaryNorm([lo] + list(levels) + [hi], len(colors)), lo, hi


def paint(field, xc, yc, outline, value):
    xx, yy = np.meshgrid(xc, yc)
    pts = np.column_stack([xx.ravel(), yy.ravel()])
    field[Path(outline).contains_points(pts).reshape(xx.shape)] = value


def paint_cells(field, xc, yc, cells, value):
    for cx, cy in cells:
        field[np.argmin(abs(yc - cy)), np.argmin(abs(xc - cx))] = value


def make_axes(box, xlim, ylim):
    left, right, top, bottom = box
    ax = fig.add_axes([left / W, 1 - bottom / H, (right - left) / W, (bottom - top) / H])
    ax.set_xlim(xlim)
    ax.set_ylim(ylim)
    for s in ["top", "right"]:
        ax.spines[s].set_visible(False)
    for s in ["left", "bottom"]:
        ax.spines[s].set_linewidth(3.4)
    ax.set_axisbelow(False)
    return ax


def style_ticks(ax, xstep, ystep, size, padx, pady):
    ax.xaxis.set_major_locator(MultipleLocator(xstep))
    ax.yaxis.set_major_locator(MultipleLocator(ystep))
    ax.xaxis.set_minor_locator(MultipleLocator(0.1))
    ax.yaxis.set_minor_locator(MultipleLocator(0.1))
    ax.xaxis.set_major_formatter(FormatStrFormatter("%g"))
    ax.yaxis.set_major_formatter(FormatStrFormatter("%g"))
    ax.tick_params(axis="x", which="major", direction="in", length=16, width=3.6, pad=padx, labelsize=size)
    ax.tick_params(axis="y", which="major", direction="in", length=17, width=3.4, pad=pady, labelsize=size)
    ax.tick_params(which="minor", direction="in", length=9, width=1.2)
    for t in ax.get_xticklabels() + ax.get_yticklabels():
        t.set_fontweight("bold")
        t.set_fontfamily("Liberation Sans")


def draw_bar(box, levels, colors, labels, name, name_x, size):
    left, right, top, bottom = box
    cmap, norm, lo, hi = cmap_norm(colors, levels)
    ax = fig.add_axes([left / W, 1 - bottom / H, (right - left) / W, (bottom - top) / H])
    edges = np.array([lo] + list(levels) + [hi])
    mids = (edges[:-1] + edges[1:]) / 2
    ax.pcolormesh(edges, [0, 1], mids[None, :], cmap=cmap, norm=norm, edgecolors="black", linewidth=1.1)
    ax.set_xlim(lo, hi)
    ax.set_yticks([])
    ax.set_xticks(levels)
    ax.set_xticklabels(labels, family="Liberation Sans", fontsize=size)
    ax.tick_params(axis="x", length=0, pad=9)
    for s in ax.spines.values():
        s.set_linewidth(1.6)
    fig.text(name_x / W, 1 - (bottom + 26) / H, name, family="Liberation Sans", fontsize=size,
             ha="center", va="center", fontweight="bold" if name == "z:" else "normal")


def axis_title(text, px, py, rotation=0, size=34):
    fig.text(px / W, 1 - py / H, text, family="Liberation Sans", fontweight="bold", fontsize=size,
             ha="center", va="center", rotation=rotation)


def draw_voz(box, xlim, ylim, red_polys, blue, hole, layers, dots, white):
    ax = make_axes(box, xlim, ylim)
    cmap, norm, lo, hi = cmap_norm(voz_colors, voz_levels)
    ax.set_facecolor(voz_colors[1])
    xe = np.arange(xlim[0], xlim[1] + 0.02, 0.02)
    ye = np.arange(ylim[0], ylim[1] + 0.02, 0.02)
    xc, yc = (xe[:-1] + xe[1:]) / 2, (ye[:-1] + ye[1:]) / 2
    for rows, size in layers:
        bx = [x for y, xs in rows for x in xs]
        by = [y for y, xs in rows for x in xs]
        ax.scatter(bx, by, s=size, marker="s", c=[VOZ_SG] * len(bx), cmap=cmap, norm=norm, linewidths=0, zorder=1.0)
    under = np.full((len(yc), len(xc)), np.nan)
    for poly in red_polys:
        paint(under, xc, yc, poly, VOZ_RED)
    ax.pcolormesh(xe, ye, np.ma.masked_invalid(under), cmap=cmap, norm=norm, zorder=1.1)
    for pts, val in dots:
        ax.scatter([p[0] for p in pts], [p[1] for p in pts], s=105, marker="s", c=[val] * len(pts),
                   cmap=cmap, norm=norm, linewidths=0, zorder=1.2)
    ax.scatter(white[0], white[1], s=5, marker="s", c="white", linewidths=0, zorder=1.3)
    over = np.full((len(yc), len(xc)), np.nan)
    paint(over, xc, yc, blue, VOZ_BLUE)
    paint(over, xc, yc, hole, HOLE)
    ax.pcolormesh(xe, ye, np.ma.masked_invalid(over), cmap=cmap, norm=norm, zorder=1.4)
    style_ticks(ax, 0.5, 0.5, 23, 9, 19)
    return ax


def draw_z(box, xlim, ylim, xend, inner, layers, cells, strip, strip_x):
    ax = make_axes(box, xlim, ylim)
    cmap, norm, lo, hi = cmap_norm(z_colors, z_levels)
    xe = np.arange(xlim[0], xend + 0.02, 0.02)
    xe[-1] = xend
    ye = np.arange(ylim[0], ylim[1] + 0.02, 0.02)
    xc, yc = (xe[:-1] + xe[1:]) / 2, (ye[:-1] + ye[1:]) / 2
    field = np.full((len(yc), len(xc)), Z_ORANGE)
    # speckled strip at the outlet
    y_top, y_bot = inner[2], inner[1]
    row_h = (y_top - y_bot) / len(strip)
    for i, row in enumerate(strip):
        yy = y_top - (i + 0.5) * row_h
        sel_y = abs(yc - yy) <= row_h / 2
        for j, ch in enumerate(row):
            if ch == "#":
                field[np.ix_(sel_y, abs(xc - (strip_x + 0.018 * j)) <= 0.01)] = Z_RED
    for poly, val in layers:
        paint(field, xc, yc, poly, val)
    for pts, val in cells:
        paint_cells(field, xc, yc, pts, val)
    ax.pcolormesh(xe, ye, field, cmap=cmap, norm=norm, zorder=1.0)
    red = z_colors[-1]
    ax.fill_between([xlim[0], inner[0]], ylim[0], ylim[1], color=red, lw=0, zorder=1.1)
    ax.fill_between([xlim[0], xend], ylim[0], inner[1], color=red, lw=0, zorder=1.1)
    ax.fill_between([xlim[0], xend], inner[2], ylim[1], color=red, lw=0, zorder=1.1)
    style_ticks(ax, 0.5, 0.5, 26, 8, 19)
    ax.tick_params(axis="y", which="major", length=19)
    ax.tick_params(which="minor", length=10)
    return ax


fig = plt.figure(figsize=(W / 100, H / 100), dpi=100)

al_dots = [(al_green_dots, VOZ_GREEN), (al_lime_dots, VOZ_LIME), (al_orange_dots, VOZ_ORANGE), (al_red_dots, VOZ_RED)]
draw_voz((178, 1745, 155, 1016), (2.34, 5.922), (1.46, 3.6125), [al_red_top, al_red_low], al_blue, al_hole,
         [(al_rows, 115), (al_extra, 70)], al_dots, (al_white_x, al_white_y))
ar_dots = [(ar_green_dots, VOZ_GREEN), (ar_lime_dots, VOZ_LIME), (ar_orange_dots, VOZ_ORANGE), (ar_red_dots, VOZ_RED)]
draw_voz((1992, 3567, 127, 1031), (2.337, 5.925), (1.4575, 3.615), [ar_red_top, ar_red_low, ar_red_blob], ar_blue, ar_hole,
         [(ar_rows, 115), (ar_extra, 70)], ar_dots, (ar_white_x, ar_white_y))

bl_layers = [(bl_yellow, Z_YELLOW), (bl_lime_top, Z_LIME), (bl_lime_low, Z_LIME), (bl_fringe, Z_ORANGE), (bl_ring, Z_RED), (bl_hole, HOLE)]
bl_cells = [(bl_green_cells, Z_GREEN), (bl_yellow_cells, Z_YELLOW)]
draw_z((213, 1751, 1336, 2274), (1.225, 6.621), (0.615, 4.431), 6.361, (1.344, 0.68, 4.374), bl_layers, bl_cells, bl_strip, 6.25)

br_layers = [(br_yellow, Z_YELLOW), (br_lime_top, Z_LIME), (br_lime_low, Z_LIME), (br_green_top, Z_GREEN), (br_green_low, Z_GREEN),
             (br_sg_top, Z_SG), (br_hole_a, Z_ORANGE), (br_hole_b, Z_ORANGE), (br_fringe, Z_ORANGE), (br_ring, Z_RED), (br_hole, HOLE)]
br_cells = [(br_sg_cells, Z_SG), (br_yellow_cells, Z_YELLOW)]
draw_z((2033, 3566, 1343, 2280), (1.226, 6.605), (0.626, 4.43), 6.349, (1.353, 0.687, 4.374), br_layers, br_cells, br_strip, 6.235)

draw_bar((898, 1575, 74, 116), voz_levels, voz_colors, voz_labels, "voz:", 855, 21)
draw_bar((2716, 3392, 43, 88), voz_levels, voz_colors, voz_labels, "voz:", 2672, 21)
draw_bar((301, 1603, 1239, 1283), z_levels, z_colors, z_labels, "z:", 272, 24.5)
draw_bar((2121, 3419, 1244, 1289), z_levels, z_colors, z_labels, "z:", 2090, 24.5)

axis_title("x (m)", 960, 1079)
axis_title("x (m)", 2779, 1097)
axis_title("x (m)", 1118, 2342)
axis_title("x (m)", 2935, 2349)
axis_title("y (m)", 60, 585, rotation=90)
axis_title("y (m)", 1881, 586, rotation=90)
axis_title("y (m)", 85, 1803, rotation=90)
axis_title("y (m)", 1902, 1810, rotation=90)

for letter, py in [("a", 1196), ("b", 2432)]:
    fig.text(1805 / W, 1 - py / H, letter, family="Liberation Serif", fontweight="bold", fontsize=56, ha="center", va="center")
    fig.text(1783 / W, 1 - py / H, "(", family="Liberation Serif", fontsize=56, ha="right", va="center")
    fig.text(1827 / W, 1 - py / H, ")", family="Liberation Serif", fontsize=56, ha="left", va="center")

fig.savefig("out.png", dpi=100)
